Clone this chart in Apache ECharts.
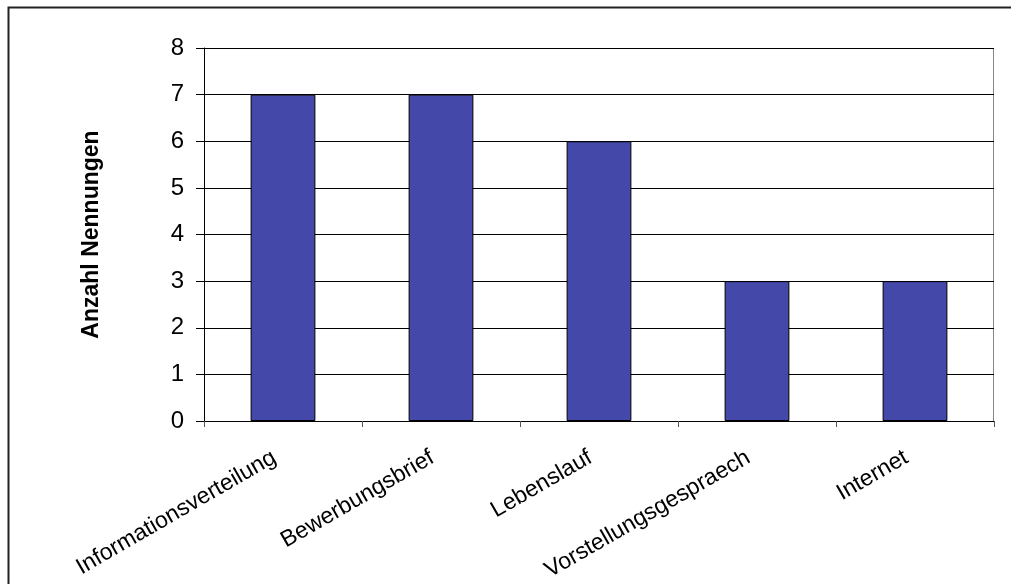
<!DOCTYPE html>
<html>
<head>
<meta charset="utf-8">
<script src="https://cdn.jsdelivr.net/npm/echarts@6/dist/echarts.min.js"></script>
<style>
  html, body { margin: 0; padding: 0; background: #fff; }
  #chart { width: 1011px; height: 584px; }
</style>
</head>
<body>
<div id="chart"></div>
<script>
// Survey topics and how often each was mentioned
const categories = ['Informationsverteilung', 'Bewerbungsbrief', 'Lebenslauf', 'Vorstellungsgespraech', 'Internet'];
const mentions = [7, 7, 6, 3, 3];
const yTicks = [0, 1, 2, 3, 4, 5, 6, 7, 8];

const chart = echarts.init(document.getElementById('chart'), null, { renderer: 'canvas' });
const font = 'Liberation Sans, Arial, sans-serif';

chart.setOption({
  animation: false,
  backgroundColor: '#ffffff',
  graphic: [
    // outer chart frame (open to the right and bottom)
    { type: 'polyline', shape: { points: [[8.5, 584], [8.5, 7.5], [1011, 7.5]] },
      style: { stroke: '#222', lineWidth: 2, fill: null }, silent: true },
    // plot area border on top and right
    { type: 'polyline', shape: { points: [[204, 48.5], [993.5, 48.5], [993.5, 421]] },
      style: { stroke: '#888', lineWidth: 1, fill: null }, silent: true }
  ],
  grid: { left: 204, right: 17, top: 48, bottom: 163, containLabel: false },
  xAxis: {
    type: 'category',
    data: categories,
    axisLine: { show: true, lineStyle: { color: '#000', width: 1 } },
    axisTick: { show: true, length: 6, lineStyle: { color: '#555' } },
    axisLabel: { rotate: 30, margin: 30, padding: [0, 10, 0, 0], fontSize: 23, color: '#000', fontFamily: font, interval: 0 },
    splitLine: { show: false }
  },
  yAxis: {
    type: 'value',
    min: yTicks[0],
    max: yTicks[yTicks.length - 1],
    interval: 1,
    name: 'Anzahl Nennungen',
    nameLocation: 'middle',
    nameRotate: 90,
    nameGap: 101,
    nameTextStyle: { fontSize: 23, fontWeight: 'bold', color: '#000', fontFamily: font },
    axisLine: { show: true, lineStyle: { color: '#000', width: 1 } },
    axisTick: { show: true, inside: false, length: 8, lineStyle: { color: '#000' } },
    axisLabel: { fontSize: 24, color: '#000', fontFamily: font, margin: 20 },
    splitLine: { show: true, lineStyle: { color: '#000', width: 1 } }
  },
  series: [{
    type: 'bar',
    data: mentions,
    barWidth: '41%',
    itemStyle: { color: '#4448A8', borderColor: '#000', borderWidth: 1 }
  }]
});
</script>
</body>
</html>
